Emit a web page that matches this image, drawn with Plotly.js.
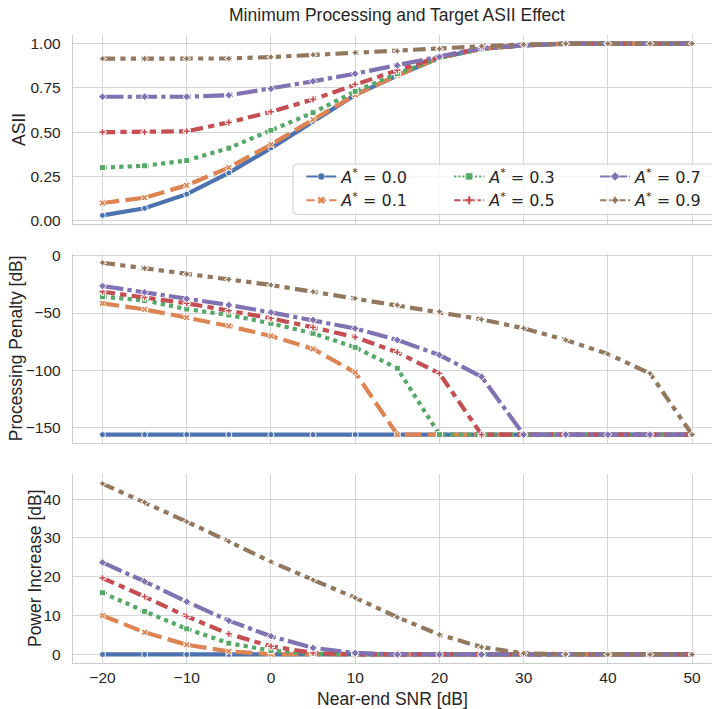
<!DOCTYPE html>
<html>
<head>
<meta charset="utf-8">
<script src="https://cdn.plot.ly/plotly-3.0.1.min.js"></script>
<style>html,body{margin:0;padding:0;background:#fff;overflow:hidden}#chart{width:712px;height:709px}</style>
</head>
<body>
<div id="chart"></div>
<script>
// ---- data ----
const snr = [-20, -15, -10, -5, 0, 5, 10, 15, 20, 25, 30, 35, 40, 45, 50];
const targets = ["0.0", "0.1", "0.3", "0.5", "0.7", "0.9"];

const asii_00 = [0.03, 0.07, 0.15, 0.27, 0.41, 0.56, 0.71, 0.82, 0.92, 0.97, 0.99, 1.0, 1.0, 1.0, 1.0];
const asii_01 = [0.10, 0.13, 0.20, 0.30, 0.43, 0.57, 0.71, 0.82, 0.92, 0.97, 0.99, 1.0, 1.0, 1.0, 1.0];
const asii_03 = [0.30, 0.31, 0.34, 0.41, 0.51, 0.61, 0.73, 0.83, 0.92, 0.97, 0.99, 1.0, 1.0, 1.0, 1.0];
const asii_05 = [0.50, 0.50, 0.505, 0.555, 0.615, 0.685, 0.77, 0.85, 0.925, 0.975, 0.99, 1.0, 1.0, 1.0, 1.0];
const asii_07 = [0.70, 0.70, 0.70, 0.708, 0.745, 0.787, 0.83, 0.877, 0.925, 0.975, 0.99, 1.0, 1.0, 1.0, 1.0];
const asii_09 = [0.915, 0.915, 0.915, 0.916, 0.924, 0.937, 0.949, 0.958, 0.97, 0.985, 0.995, 1.0, 1.0, 1.0, 1.0];

const penalty_00 = [-156, -156, -156, -156, -156, -156, -156, -156, -156, -156, -156, -156, -156, -156, -156];
const penalty_01 = [-41.5, -46.8, -54, -61.3, -70, -81.3, -101.7, -156, -156, -156, -156, -156, -156, -156, -156];
const penalty_03 = [-35.7, -39, -46.5, -51.7, -59, -67.7, -79.9, -98.2, -156, -156, -156, -156, -156, -156, -156];
const penalty_05 = [-31.4, -36.3, -41.5, -47.9, -54.6, -62.5, -71, -84.2, -102.6, -156, -156, -156, -156, -156, -156];
const penalty_07 = [-26.4, -31.9, -37.5, -43, -49.4, -56, -63.5, -73.5, -86.6, -105.5, -156, -156, -156, -156, -156];
const penalty_09 = [-6.1, -11, -16, -20.6, -25.5, -31.4, -37.2, -43, -48.8, -55.5, -63.3, -73.5, -85.7, -102.6, -156];

const power_00 = [0, 0, 0, 0, 0, 0, 0, 0, 0, 0, 0, 0, 0, 0, 0];
const power_01 = [10.0, 5.7, 2.5, 0.8, 0.1, 0, 0, 0, 0, 0, 0, 0, 0, 0, 0];
const power_03 = [15.9, 11.1, 6.6, 2.9, 1.0, 0.2, 0, 0, 0, 0, 0, 0, 0, 0, 0];
const power_05 = [19.7, 14.9, 9.8, 5.3, 2.1, 0.4, 0, 0, 0, 0, 0, 0, 0, 0, 0];
const power_07 = [23.7, 18.8, 13.6, 8.7, 4.7, 1.7, 0.4, 0, 0, 0, 0, 0, 0, 0, 0];
const power_09 = [44.0, 39.2, 34.2, 29.1, 23.9, 19.2, 14.6, 9.6, 5.1, 1.9, 0.3, 0.05, 0, 0, 0];

const yTitles = ["ASII", "Processing Penalty [dB]", "Power Increase [dB]"];
const xTitle = "Near-end SNR [dB]";
const chartTitle = "Minimum Processing and Target ASII Effect";

const asiiSeries = [asii_00, asii_01, asii_03, asii_05, asii_07, asii_09];
const penaltySeries = [penalty_00, penalty_01, penalty_03, penalty_05, penalty_07, penalty_09];
const powerSeries = [power_00, power_01, power_03, power_05, power_07, power_09];

// ---- styles ----
const colors = ["#4c72b0", "#dd8452", "#55a868", "#c44e52", "#8172b3", "#937860"];
const symbols = ["circle", "x", "square", "cross", "diamond", "star-diamond"];
const dashUnits = [[], [4, 1.5], [1, 1], [3, 1.25, 1.5, 1.25], [5, 1, 1, 1], [3, 1.25, 1.25, 1.25, 1.25, 1.25]];
function dashFor(i, w) {
  if (!dashUnits[i].length) return "solid";
  return dashUnits[i].map(u => (u * w).toFixed(2) + "px").join(",");
}
const LW = 4.2;
const legendCols = ["legend", "legend", "legend2", "legend2", "legend3", "legend3"];

const traces = [];
const panels = [[asiiSeries, "x", "y"], [penaltySeries, "x2", "y2"], [powerSeries, "x3", "y3"]];
panels.forEach(([series, xa, ya]) => {
  series.forEach((vals, i) => {
    traces.push({
      type: "scatter", mode: "lines+markers",
      x: snr, y: vals, xaxis: xa, yaxis: ya,
      name: "<i>A</i><sup>*</sup> = " + targets[i],
      showlegend: false,
      line: {color: colors[i], width: LW, dash: dashFor(i, LW)},
      marker: {symbol: symbols[i], size: 6, color: colors[i], line: {color: "#ffffff", width: 1}}
    });
  });
});
// legend entries (thin lines like the reference legend)
targets.forEach((t, i) => {
  traces.push({
    type: "scatter", mode: "lines+markers",
    x: [null], y: [null], xaxis: "x", yaxis: "y",
    name: "<i>A</i><sup>*</sup> = " + t,
    legend: legendCols[i], showlegend: true, hoverinfo: "skip",
    line: {color: colors[i], width: 2, dash: dashFor(i, 2.08)},
    marker: {symbol: symbols[i], size: 7, color: colors[i], line: {color: "#ffffff", width: 0.5}}
  });
});

const gridC = "#d5d5d5", spineC = "#cccccc", textC = "#262626";
const tickFont = {family: "Liberation Sans, Arial, sans-serif", size: 15.5, color: textC};
const titleFont = {family: "Liberation Sans, Arial, sans-serif", size: 17.5, color: textC};
const xRange = [-23.5, 52.36];
function xAxis(showLabels, anchor) {
  return {
    range: xRange, anchor: anchor, tickvals: [-20, -10, 0, 10, 20, 30, 40, 50],
    showticklabels: showLabels, showgrid: true, gridcolor: gridC, gridwidth: 1,
    zeroline: false, showline: true, linecolor: spineC, linewidth: 1.25, ticks: "",
    tickfont: tickFont, matches: anchor === "y" ? undefined : "x"
  };
}
function yAxis(domain, range, tickvals, fmt, anchor) {
  const a = {
    domain: domain, range: range, anchor: anchor, tickvals: tickvals,
    showgrid: true, gridcolor: gridC, gridwidth: 1, zeroline: false,
    showline: true, linecolor: spineC, linewidth: 1.25, ticks: "",
    tickfont: tickFont, ticklabelstandoff: 8
  };
  if (fmt) a.tickformat = fmt;
  return a;
}

const PH = 628, TOP = 35;
function frac(py) { return (TOP + PH - py) / PH; }
const PW = 639.5, LEFT = 72.5;
function fx(px) { return (px - LEFT) / PW; }

const legBase = {
  orientation: "v", bgcolor: "rgba(0,0,0,0)", borderwidth: 0,
  font: {family: "DejaVu Sans, sans-serif", size: 16, color: textC},
  yanchor: "top", y: frac(159.5), xanchor: "left", tracegroupgap: 0
};

const x0 = fx(292.7), x1 = fx(730), y0 = frac(214.5), y1 = frac(164);
const rx = 4 / PW, ry = 4 / PH;
const legendBox = `M ${x0 + rx},${y1} L ${x1},${y1} L ${x1},${y0} L ${x0 + rx},${y0} Q ${x0},${y0} ${x0},${y0 + ry} L ${x0},${y1 - ry} Q ${x0},${y1} ${x0 + rx},${y1} Z`;

// y-axis titles as rotated annotations at the reference positions
const yTitlePos = [[19, 129.4], [15, 348.6], [34, 568.5]];
const annotations = yTitles.map((t, i) => ({
  text: t, xref: "paper", yref: "paper", x: fx(yTitlePos[i][0]), y: frac(yTitlePos[i][1]),
  xanchor: "center", yanchor: "middle", textangle: -90, showarrow: false, font: titleFont
}));

const layout = {
  width: 712, height: 709,
  margin: {l: LEFT, r: 0, t: TOP, b: 709 - TOP - PH},
  paper_bgcolor: "#ffffff", plot_bgcolor: "#ffffff",
  title: {text: chartTitle, font: titleFont,
          x: 397 / 712, xanchor: "center", xref: "container", y: 1 - 15 / 709, yanchor: "middle", yref: "container"},
  xaxis: xAxis(false, "y"),
  yaxis: yAxis([frac(224), 1], [-0.0185, 1.0485], [0, 0.25, 0.5, 0.75, 1.0], ".2f", "x"),
  xaxis2: xAxis(false, "y2"),
  yaxis2: yAxis([frac(443.2), frac(254)], [-163.5, 1.5], [-150, -100, -50, 0], null, "x2"),
  xaxis3: Object.assign(xAxis(true, "y3"), {title: {text: xTitle, font: titleFont, standoff: 9}}),
  yaxis3: yAxis([0, frac(474.3)], [-2.2, 46.4], [0, 10, 20, 30, 40], null, "x3"),
  legend: Object.assign({}, legBase, {x: fx(301)}),
  legend2: Object.assign({}, legBase, {x: fx(449)}),
  legend3: Object.assign({}, legBase, {x: fx(595)}),
  annotations: annotations,
  shapes: [{type: "path", xref: "paper", yref: "paper", path: legendBox,
            fillcolor: "rgba(255,255,255,0.8)", line: {color: "#cccccc", width: 1}, layer: "above"}],
  showlegend: true
};

Plotly.newPlot("chart", traces, layout, {displayModeBar: false, staticPlot: true});
</script>
</body>
</html>
